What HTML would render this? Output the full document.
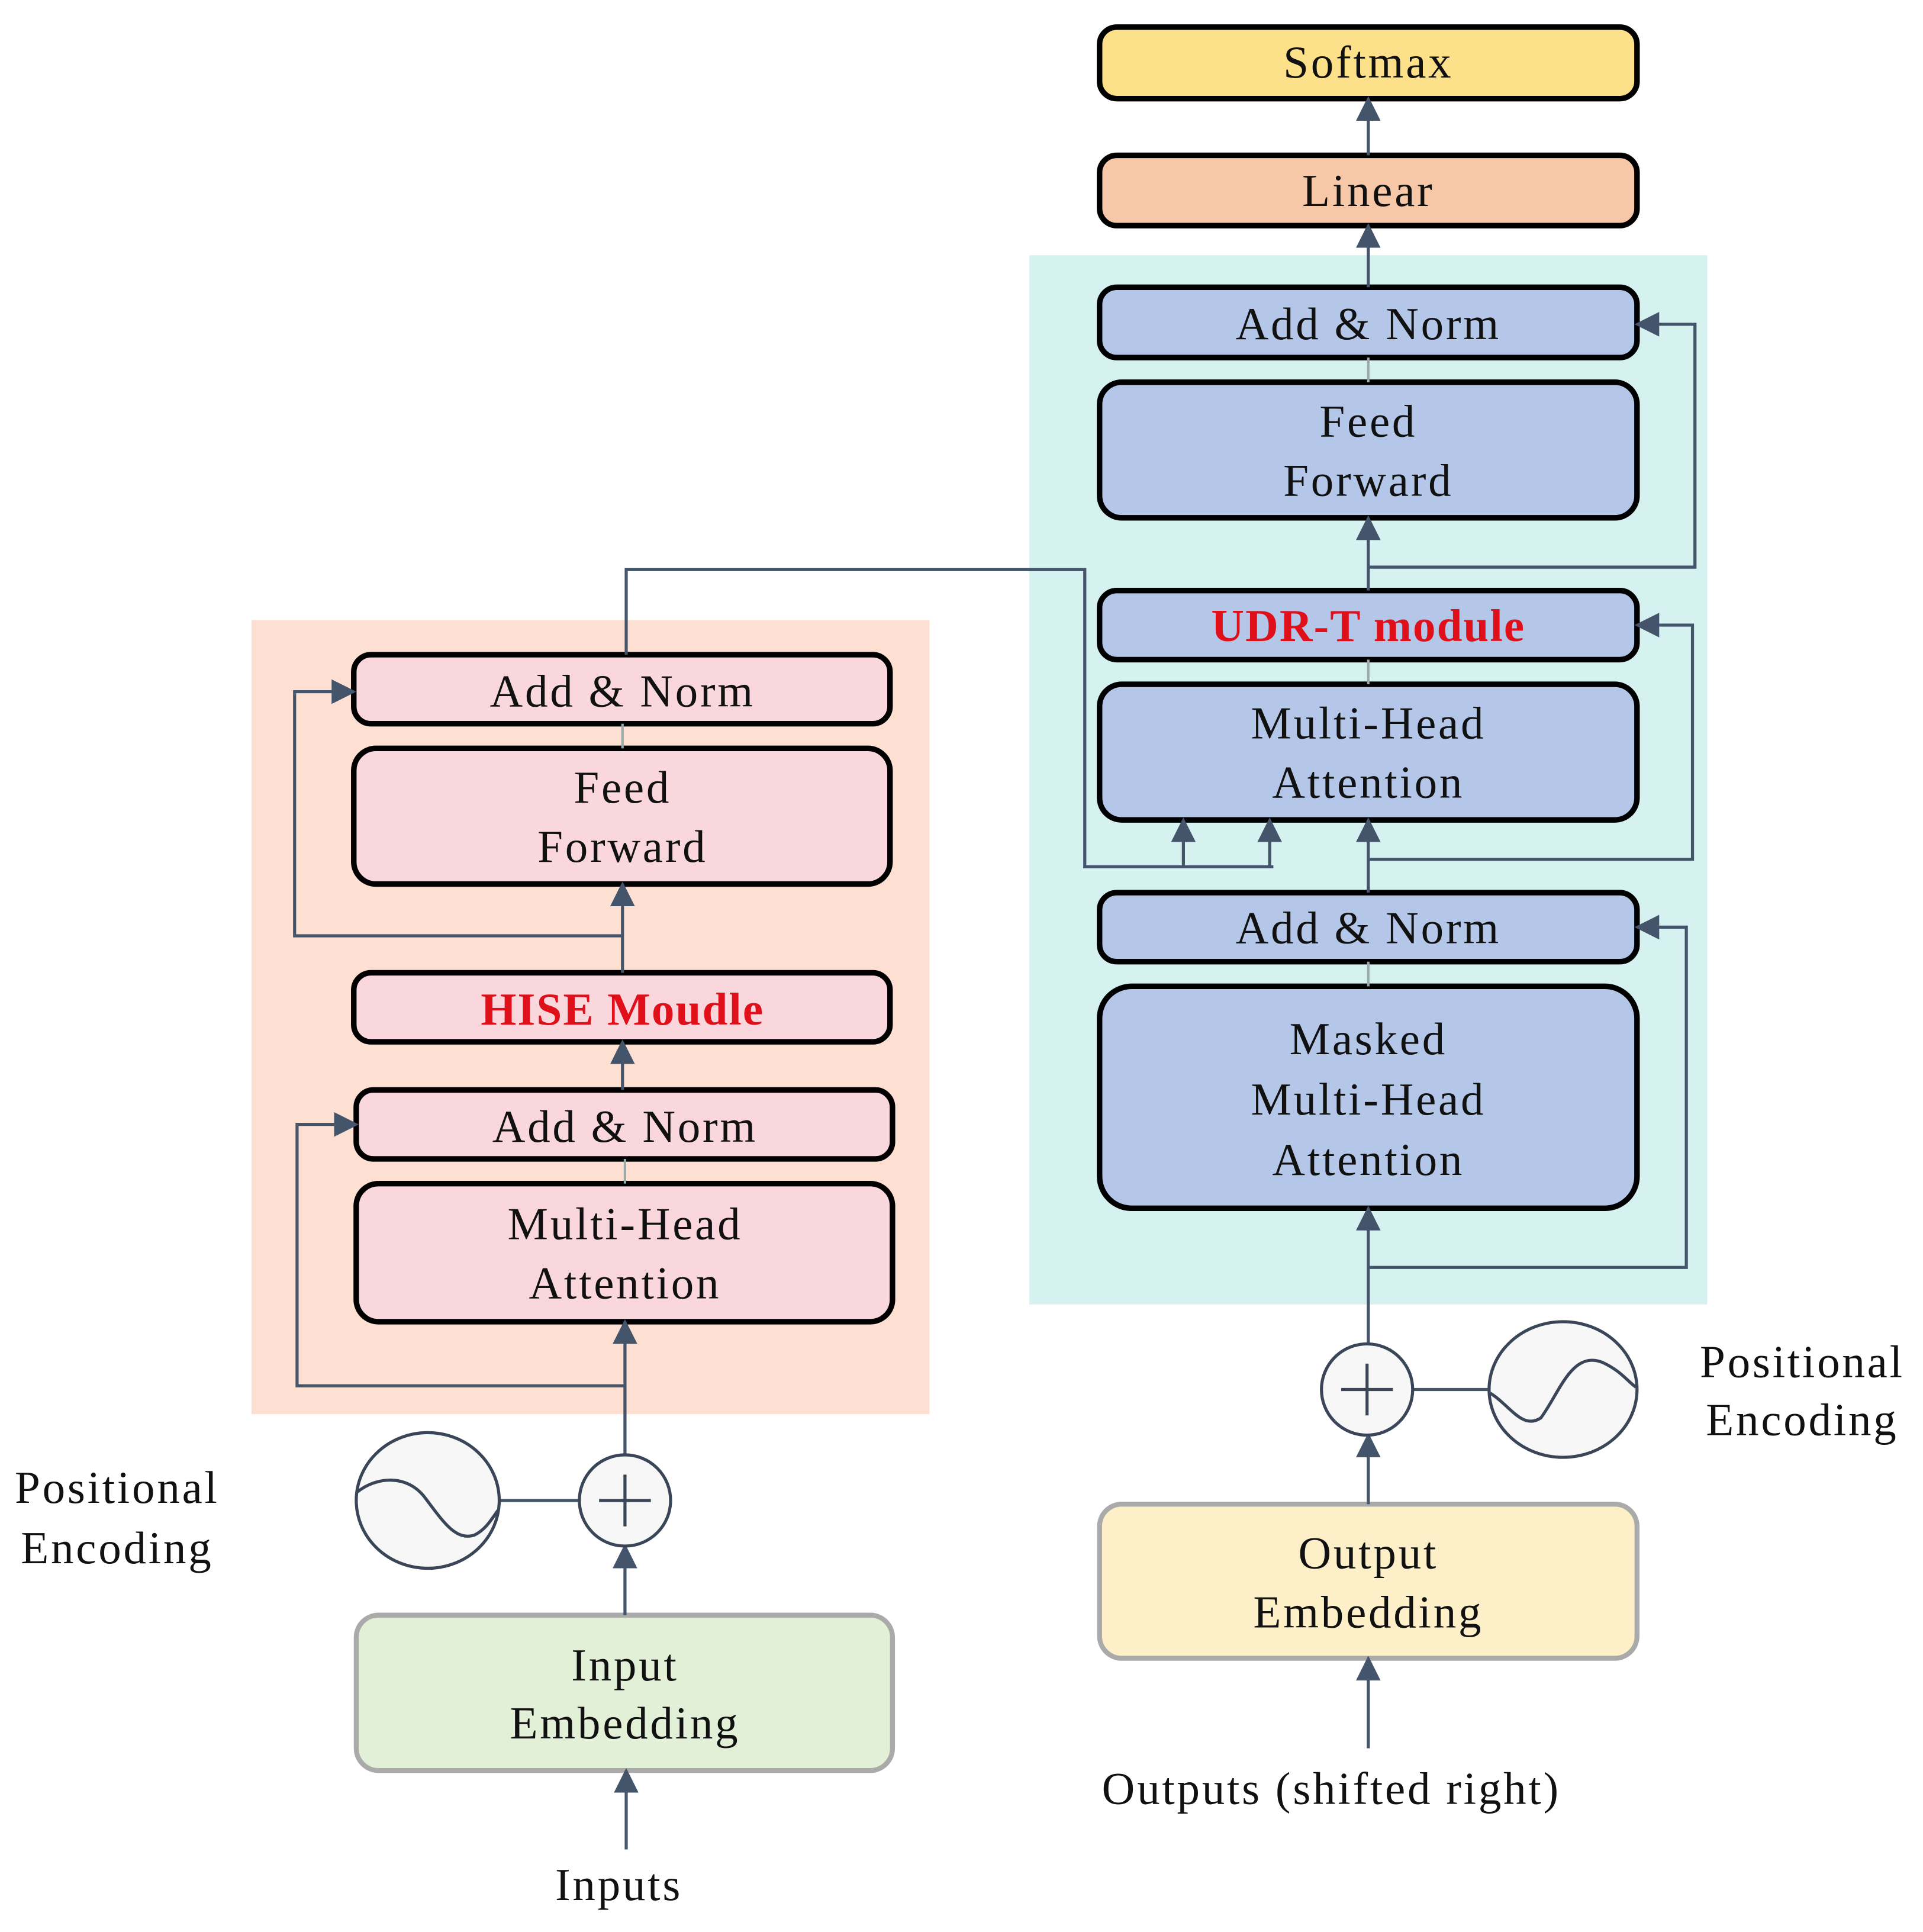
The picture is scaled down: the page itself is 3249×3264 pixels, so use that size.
<!DOCTYPE html>
<html><head><meta charset="utf-8"><style>html,body{margin:0;padding:0;background:#fff}svg{display:block}</style></head>
<body>
<svg width="3249" height="3264" viewBox="0 0 1560 1567" preserveAspectRatio="none" xmlns="http://www.w3.org/2000/svg" font-family="Liberation Serif, serif">
<defs>
<marker id="b" viewBox="0 0 10 10" refX="9" refY="5" markerWidth="20" markerHeight="20" markerUnits="userSpaceOnUse" orient="auto"><path d="M0,0 L10,5 L0,10 z" fill="#44546a"/></marker>
</defs>
<rect x="835" y="207" width="550" height="851" fill="#d5f1f0"/>
<rect x="204" y="503" width="550" height="644" fill="#fde0d2"/>
<g stroke="#000" stroke-width="4.5">
<rect x="892" y="22" width="436" height="58" rx="14" fill="#fde08a"/>
<rect x="892" y="126" width="436" height="57" rx="14" fill="#f7c8a8"/>
<rect x="892" y="233" width="436" height="57" rx="14" fill="#b4c7e9"/>
<rect x="892" y="310" width="436" height="110" rx="18" fill="#b4c7e9"/>
<rect x="892" y="479" width="436" height="56" rx="14" fill="#b4c7e9"/>
<rect x="892" y="555" width="436" height="110" rx="18" fill="#b4c7e9"/>
<rect x="892" y="724" width="436" height="56" rx="14" fill="#b4c7e9"/>
<rect x="892" y="800" width="436" height="180" rx="26" fill="#b4c7e9"/>
<rect x="287" y="531" width="435" height="56" rx="14" fill="#f9d7dd"/>
<rect x="287" y="607" width="435" height="110" rx="18" fill="#f9d7dd"/>
<rect x="287" y="789" width="435" height="56" rx="14" fill="#f9d7dd"/>
<rect x="289" y="884" width="435" height="56" rx="14" fill="#f9d7dd"/>
<rect x="289" y="960" width="435" height="112" rx="18" fill="#f9d7dd"/>
</g>
<rect x="892" y="1220" width="436" height="125" rx="18" fill="#fdf0c8" stroke="#aaa" stroke-width="4"/>
<rect x="289" y="1310" width="435" height="126" rx="18" fill="#e3f0d8" stroke="#aaa" stroke-width="4"/>
<g stroke="#44546a" stroke-width="2.5" fill="none">
<line x1="1110" y1="126" x2="1110" y2="80" marker-end="url(#b)"/>
<line x1="1110" y1="233" x2="1110" y2="183" marker-end="url(#b)"/>
<line x1="1110" y1="479" x2="1110" y2="420" marker-end="url(#b)"/>
<polyline points="1110,460 1375,460 1375,263 1328,263" marker-end="url(#b)"/>
<line x1="1110" y1="724" x2="1110" y2="665" marker-end="url(#b)"/>
<polyline points="1110,697 1373,697 1373,507 1328,507" marker-end="url(#b)"/>
<polyline points="1110,1090 1110,980" marker-end="url(#b)"/>
<polyline points="1110,1028 1368,1028 1368,752 1328,752" marker-end="url(#b)"/>
<polyline points="508,531 508,462 880,462 880,703 1033,703"/>
<line x1="960" y1="703" x2="960" y2="665" marker-end="url(#b)"/>
<line x1="1030" y1="703" x2="1030" y2="665" marker-end="url(#b)"/>
<line x1="1110" y1="1220" x2="1110" y2="1164" marker-end="url(#b)"/>
<line x1="1110" y1="1418" x2="1110" y2="1345" marker-end="url(#b)"/>
<line x1="1146" y1="1127" x2="1208" y2="1127"/>
<line x1="505" y1="789" x2="505" y2="717" marker-end="url(#b)"/>
<polyline points="505,759 239,759 239,561 287,561" marker-end="url(#b)"/>
<line x1="505" y1="884" x2="505" y2="845" marker-end="url(#b)"/>
<line x1="507" y1="1180" x2="507" y2="1072" marker-end="url(#b)"/>
<polyline points="507,1124 241,1124 241,912 289,912" marker-end="url(#b)"/>
<line x1="507" y1="1310" x2="507" y2="1254" marker-end="url(#b)"/>
<line x1="508" y1="1500" x2="508" y2="1436" marker-end="url(#b)"/>
<line x1="405" y1="1217" x2="470" y2="1217"/>
</g>
<g stroke="#9aa" stroke-width="2"><line x1="1110" y1="290" x2="1110" y2="310"/><line x1="1110" y1="535" x2="1110" y2="555"/><line x1="1110" y1="780" x2="1110" y2="800"/><line x1="505" y1="587" x2="505" y2="607"/><line x1="507" y1="940" x2="507" y2="960"/></g>
<g stroke="#3a4658" stroke-width="2.5" fill="#f7f7f7">
<circle cx="1109" cy="1127" r="37"/>
<ellipse cx="1268" cy="1127" rx="60" ry="55"/>
<circle cx="507" cy="1217" r="37"/>
<ellipse cx="347" cy="1217" rx="58" ry="55"/>
</g>
<g stroke="#3a4658" stroke-width="2.5" fill="none">
<path d="M1088,1127 H1130 M1109,1106 V1148"/>
<path d="M486,1217 H528 M507,1196 V1238"/>
<path d="M1209,1130 C1225,1140 1235,1160 1250,1150 C1265,1130 1275,1095 1300,1105 C1315,1112 1320,1120 1327,1125"/>
<path d="M290,1210 C305,1198 330,1195 345,1215 C360,1235 370,1250 385,1245 C395,1240 400,1230 404,1225"/>
</g>
<g font-size="37" text-anchor="middle" fill="#111" letter-spacing="1.8">
<text x="1110" y="63">Softmax</text>
<text x="1110" y="167">Linear</text>
<text x="1110" y="275">Add &amp; Norm</text>
<text x="1110" y="354">Feed</text>
<text x="1110" y="402">Forward</text>
<text x="1110" y="520" fill="#e0101a" font-weight="bold" letter-spacing="1">UDR-T module</text>
<text x="1110" y="599">Multi-Head</text>
<text x="1110" y="647">Attention</text>
<text x="1110" y="765">Add &amp; Norm</text>
<text x="1110" y="855">Masked</text>
<text x="1110" y="904">Multi-Head</text>
<text x="1110" y="953">Attention</text>
<text x="1110" y="1272">Output</text>
<text x="1110" y="1320">Embedding</text>
<text x="1080" y="1463">Outputs (shifted right)</text>
<text x="1462" y="1117">Positional</text>
<text x="1462" y="1164">Encoding</text>
<text x="505" y="573">Add &amp; Norm</text>
<text x="505" y="651">Feed</text>
<text x="505" y="699">Forward</text>
<text x="505" y="831" fill="#e0101a" font-weight="bold" letter-spacing="1">HISE Moudle</text>
<text x="507" y="926">Add &amp; Norm</text>
<text x="507" y="1005">Multi-Head</text>
<text x="507" y="1053">Attention</text>
<text x="507" y="1363">Input</text>
<text x="507" y="1410">Embedding</text>
<text x="502" y="1541">Inputs</text>
<text x="95" y="1219">Positional</text>
<text x="95" y="1268">Encoding</text>
</g>
</svg>
</body></html>
